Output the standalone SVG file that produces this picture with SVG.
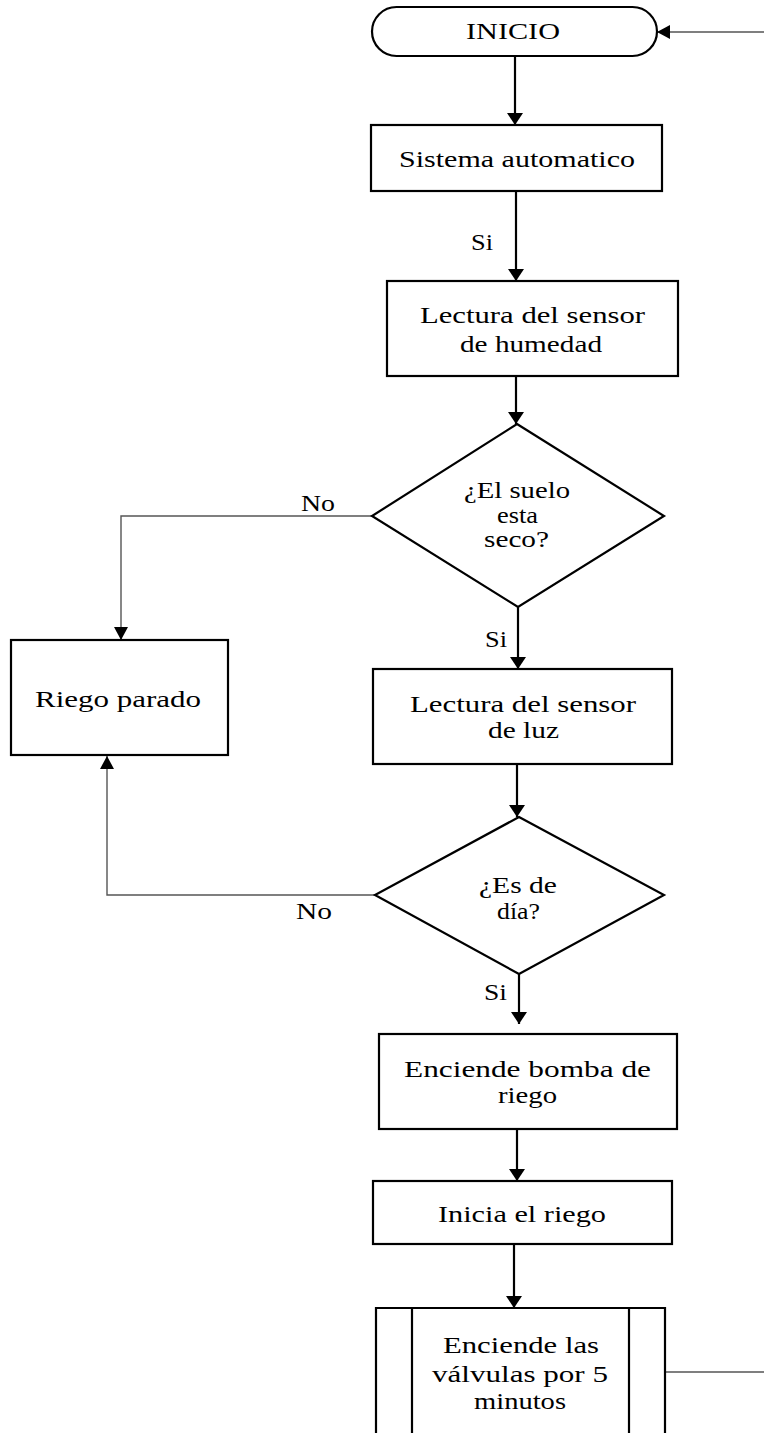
<svg xmlns="http://www.w3.org/2000/svg" width="764" height="1433" viewBox="0 0 764 1433">
<style>
.shape{fill:#fff;stroke:#000;stroke-width:2.2}
.thick{fill:none;stroke:#000;stroke-width:2.2}
.thin{fill:none;stroke:#555;stroke-width:1.4}
text{font-family:"Liberation Serif","Times New Roman",serif;font-size:23px;fill:#000}
</style>
<defs>
<marker id="ah" markerUnits="userSpaceOnUse" markerWidth="12" markerHeight="16" viewBox="0 0 12 16" refX="12" refY="8" orient="auto">
<path d="M0,0 L12,8 L0,16 z" fill="#000"/>
</marker>
<marker id="ahs" markerUnits="userSpaceOnUse" markerWidth="13" markerHeight="14" viewBox="0 0 13 14" refX="13" refY="7" orient="auto">
<path d="M0,0 L13,7 L0,14 z" fill="#000"/>
</marker>
</defs>
<rect width="764" height="1433" fill="#fff"/>
<g id="connectors">
<line class="thin" x1="764" y1="32" x2="657" y2="32" marker-end="url(#ahs)"/>
<line class="thick" x1="515" y1="56" x2="515" y2="125" marker-end="url(#ah)"/>
<line class="thick" x1="516" y1="191" x2="516" y2="281" marker-end="url(#ah)"/>
<line class="thick" x1="516" y1="376" x2="516" y2="424" marker-end="url(#ah)"/>
<polyline class="thin" points="372,516 121,516 121,640" marker-end="url(#ahs)"/>
<line class="thick" x1="518" y1="607" x2="518" y2="669" marker-end="url(#ah)"/>
<line class="thick" x1="517" y1="765" x2="517" y2="817" marker-end="url(#ah)"/>
<polyline class="thin" points="375,895 107,895 107,756" marker-end="url(#ahs)"/>
<line class="thick" x1="519" y1="974" x2="519" y2="1024" marker-end="url(#ah)"/>
<line class="thick" x1="517" y1="1129" x2="517" y2="1181" marker-end="url(#ah)"/>
<line class="thick" x1="514" y1="1244" x2="514" y2="1308" marker-end="url(#ah)"/>
<line class="thin" x1="665" y1="1372" x2="764" y2="1372"/>
<text x="471" y="250" textLength="22" lengthAdjust="spacingAndGlyphs">Si</text>
<text x="301" y="511" textLength="34" lengthAdjust="spacingAndGlyphs">No</text>
<text x="485" y="647" textLength="22" lengthAdjust="spacingAndGlyphs">Si</text>
<text x="296" y="919" textLength="36" lengthAdjust="spacingAndGlyphs">No</text>
<text x="484" y="1000" textLength="23" lengthAdjust="spacingAndGlyphs">Si</text>
</g>
<g id="inicio">
<rect class="shape" x="372" y="7" width="285" height="49" rx="24.5" ry="24.5"/>
<text x="466" y="39" textLength="94" lengthAdjust="spacingAndGlyphs">INICIO</text>
</g>
<g id="sistema">
<rect class="shape" x="371" y="125" width="291" height="66"/>
<text x="399" y="167" textLength="236" lengthAdjust="spacingAndGlyphs">Sistema  automatico</text>
</g>
<g id="lectura-humedad">
<rect class="shape" x="387" y="281" width="291" height="95"/>
<text x="420" y="323" textLength="225" lengthAdjust="spacingAndGlyphs">Lectura  del sensor</text>
<text x="460" y="352" textLength="142" lengthAdjust="spacingAndGlyphs">de humedad</text>
</g>
<g id="suelo-seco">
<polygon class="shape" points="517,424 664,516 518,607 372,516"/>
<text x="464" y="498" textLength="106" lengthAdjust="spacingAndGlyphs">¿El suelo</text>
<text x="497" y="523" textLength="41" lengthAdjust="spacingAndGlyphs">esta</text>
<text x="484" y="547" textLength="65" lengthAdjust="spacingAndGlyphs">seco?</text>
</g>
<g id="riego-parado">
<rect class="shape" x="11" y="640" width="217" height="115"/>
<text x="35" y="707" textLength="166" lengthAdjust="spacingAndGlyphs">Riego  parado</text>
</g>
<g id="lectura-luz">
<rect class="shape" x="373" y="669" width="299" height="95"/>
<text x="410" y="712" textLength="226" lengthAdjust="spacingAndGlyphs">Lectura  del sensor</text>
<text x="488" y="738" textLength="71" lengthAdjust="spacingAndGlyphs">de luz</text>
</g>
<g id="es-de-dia">
<polygon class="shape" points="519,817 664,895 519,974 375,895"/>
<text x="479" y="893" textLength="78" lengthAdjust="spacingAndGlyphs">¿Es de</text>
<text x="497" y="919" textLength="43" lengthAdjust="spacingAndGlyphs">día?</text>
</g>
<g id="bomba">
<rect class="shape" x="379" y="1034" width="298" height="95"/>
<text x="404" y="1077" textLength="247" lengthAdjust="spacingAndGlyphs">Enciende  bomba de</text>
<text x="498" y="1103" textLength="59" lengthAdjust="spacingAndGlyphs">riego</text>
</g>
<g id="inicia-riego">
<rect class="shape" x="373" y="1181" width="299" height="63"/>
<text x="438" y="1222" textLength="168" lengthAdjust="spacingAndGlyphs">Inicia  el riego</text>
</g>
<g id="valvulas">
<path class="shape" d="M376,1440 V1308 H665 V1440"/>
<line class="thick" x1="412" y1="1308" x2="412" y2="1440"/>
<line class="thick" x1="629" y1="1308" x2="629" y2="1440"/>
<text x="443" y="1353" textLength="156" lengthAdjust="spacingAndGlyphs">Enciende  las</text>
<text x="432" y="1382" textLength="176" lengthAdjust="spacingAndGlyphs">válvulas  por 5</text>
<text x="474" y="1409" textLength="92" lengthAdjust="spacingAndGlyphs">minutos</text>
</g>
</svg>
